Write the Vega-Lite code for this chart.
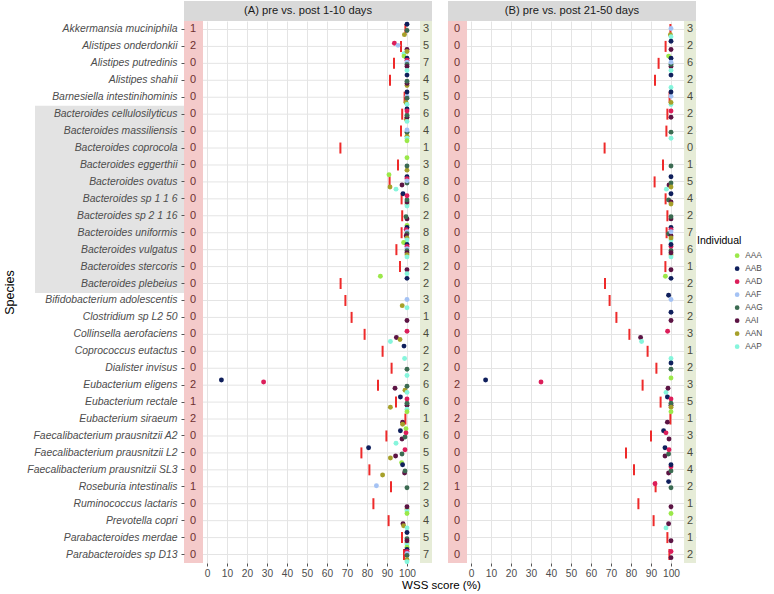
{
  "$schema": "https://vega.github.io/schema/vega-lite/v6.json",
  "padding": {"left": 3, "top": 1, "right": 2, "bottom": 2},
  "background": "white",
  "title": {"text": "WSS score (%)", "orient": "bottom", "anchor": "middle", "frame": "bounds", "dx": 58, "offset": 2, "fontSize": 11.5, "fontWeight": "normal", "color": "#000000"},
  "config": {
    "font": "Liberation Sans",
    "view": {"stroke": null},
    "axis": {"domain": false, "gridColor": "#e4e4e4", "gridWidth": 1, "tickColor": "#555555", "tickSize": 3, "labelColor": "#4d4d4d", "titleFontWeight": "normal", "titleColor": "#000000", "labelOverlap": false},
    "legend": {"titleFontWeight": "normal"}
  },
  "datasets": {
    "strip": [
      {"p": "A", "label": "(A) pre vs. post 1-10 days"},
      {"p": "B", "label": "(B) pre vs. post 21-50 days"}
    ],
    "bact": [
      {"sp": "Bacteroides cellulosilyticus"}, {"sp": "Bacteroides massiliensis"}, {"sp": "Bacteroides coprocola"},
      {"sp": "Bacteroides eggerthii"}, {"sp": "Bacteroides ovatus"}, {"sp": "Bacteroides sp 1 1 6"},
      {"sp": "Bacteroides sp 2 1 16"}, {"sp": "Bacteroides uniformis"}, {"sp": "Bacteroides vulgatus"},
      {"sp": "Bacteroides stercoris"}, {"sp": "Bacteroides plebeius"}
    ],
    "med": [
      {"p": "A", "sp": "Akkermansia muciniphila", "m": 99.2, "lo": 1, "hi": 3},
      {"p": "A", "sp": "Alistipes onderdonkii", "m": 97, "lo": 2, "hi": 5},
      {"p": "A", "sp": "Alistipes putredinis", "m": 93.5, "lo": 0, "hi": 7},
      {"p": "A", "sp": "Alistipes shahii", "m": 91.5, "lo": 0, "hi": 4},
      {"p": "A", "sp": "Barnesiella intestinihominis", "m": 98.8, "lo": 0, "hi": 5},
      {"p": "A", "sp": "Bacteroides cellulosilyticus", "m": 97.6, "lo": 0, "hi": 6},
      {"p": "A", "sp": "Bacteroides massiliensis", "m": 97, "lo": 0, "hi": 4},
      {"p": "A", "sp": "Bacteroides coprocola", "m": 66.7, "lo": 0, "hi": 1},
      {"p": "A", "sp": "Bacteroides eggerthii", "m": 95.5, "lo": 0, "hi": 3},
      {"p": "A", "sp": "Bacteroides ovatus", "m": 91.3, "lo": 0, "hi": 8},
      {"p": "A", "sp": "Bacteroides sp 1 1 6", "m": 97.3, "lo": 0, "hi": 6},
      {"p": "A", "sp": "Bacteroides sp 2 1 16", "m": 97.6, "lo": 0, "hi": 2},
      {"p": "A", "sp": "Bacteroides uniformis", "m": 97.3, "lo": 0, "hi": 8},
      {"p": "A", "sp": "Bacteroides vulgatus", "m": 94.7, "lo": 0, "hi": 8},
      {"p": "A", "sp": "Bacteroides stercoris", "m": 96.5, "lo": 0, "hi": 2},
      {"p": "A", "sp": "Bacteroides plebeius", "m": 66.8, "lo": 0, "hi": 2},
      {"p": "A", "sp": "Bifidobacterium adolescentis", "m": 69.2, "lo": 0, "hi": 3},
      {"p": "A", "sp": "Clostridium sp L2 50", "m": 72.3, "lo": 0, "hi": 1},
      {"p": "A", "sp": "Collinsella aerofaciens", "m": 78.8, "lo": 0, "hi": 4},
      {"p": "A", "sp": "Coprococcus eutactus", "m": 87.8, "lo": 0, "hi": 2},
      {"p": "A", "sp": "Dialister invisus", "m": 92.3, "lo": 0, "hi": 2},
      {"p": "A", "sp": "Eubacterium eligens", "m": 85.5, "lo": 2, "hi": 6},
      {"p": "A", "sp": "Eubacterium rectale", "m": 94.5, "lo": 1, "hi": 6},
      {"p": "A", "sp": "Eubacterium siraeum", "m": 99.2, "lo": 2, "hi": 1},
      {"p": "A", "sp": "Faecalibacterium prausnitzii A2", "m": 89.7, "lo": 0, "hi": 6},
      {"p": "A", "sp": "Faecalibacterium prausnitzii L2", "m": 77.2, "lo": 0, "hi": 5},
      {"p": "A", "sp": "Faecalibacterium prausnitzii SL3", "m": 81.2, "lo": 0, "hi": 5},
      {"p": "A", "sp": "Roseburia intestinalis", "m": 92, "lo": 1, "hi": 2},
      {"p": "A", "sp": "Ruminococcus lactaris", "m": 83.2, "lo": 0, "hi": 3},
      {"p": "A", "sp": "Prevotella copri", "m": 90.8, "lo": 0, "hi": 4},
      {"p": "A", "sp": "Parabacteroides merdae", "m": 97.5, "lo": 0, "hi": 5},
      {"p": "A", "sp": "Parabacteroides sp D13", "m": 98.5, "lo": 0, "hi": 7},
      {"p": "B", "sp": "Akkermansia muciniphila", "m": 99.7, "lo": 0, "hi": 3},
      {"p": "B", "sp": "Alistipes onderdonkii", "m": 97.3, "lo": 0, "hi": 2},
      {"p": "B", "sp": "Alistipes putredinis", "m": 93.8, "lo": 0, "hi": 6},
      {"p": "B", "sp": "Alistipes shahii", "m": 92, "lo": 0, "hi": 2},
      {"p": "B", "sp": "Barnesiella intestinihominis", "m": 99.3, "lo": 0, "hi": 4},
      {"p": "B", "sp": "Bacteroides cellulosilyticus", "m": 98.2, "lo": 0, "hi": 2},
      {"p": "B", "sp": "Bacteroides massiliensis", "m": 97.7, "lo": 0, "hi": 2},
      {"p": "B", "sp": "Bacteroides coprocola", "m": 66.8, "lo": 0, "hi": 0},
      {"p": "B", "sp": "Bacteroides eggerthii", "m": 96, "lo": 0, "hi": 1},
      {"p": "B", "sp": "Bacteroides ovatus", "m": 91.8, "lo": 0, "hi": 5},
      {"p": "B", "sp": "Bacteroides sp 1 1 6", "m": 97.3, "lo": 0, "hi": 4},
      {"p": "B", "sp": "Bacteroides sp 2 1 16", "m": 98.2, "lo": 0, "hi": 2},
      {"p": "B", "sp": "Bacteroides uniformis", "m": 97.8, "lo": 0, "hi": 7},
      {"p": "B", "sp": "Bacteroides vulgatus", "m": 95.2, "lo": 0, "hi": 6},
      {"p": "B", "sp": "Bacteroides stercoris", "m": 97.2, "lo": 0, "hi": 1},
      {"p": "B", "sp": "Bacteroides plebeius", "m": 67, "lo": 0, "hi": 2},
      {"p": "B", "sp": "Bifidobacterium adolescentis", "m": 69.3, "lo": 0, "hi": 2},
      {"p": "B", "sp": "Clostridium sp L2 50", "m": 72.7, "lo": 0, "hi": 2},
      {"p": "B", "sp": "Collinsella aerofaciens", "m": 79.2, "lo": 0, "hi": 3},
      {"p": "B", "sp": "Coprococcus eutactus", "m": 88.3, "lo": 0, "hi": 1},
      {"p": "B", "sp": "Dialister invisus", "m": 92.7, "lo": 0, "hi": 2},
      {"p": "B", "sp": "Eubacterium eligens", "m": 85.8, "lo": 2, "hi": 3},
      {"p": "B", "sp": "Eubacterium rectale", "m": 94.8, "lo": 0, "hi": 5},
      {"p": "B", "sp": "Eubacterium siraeum", "m": 99.7, "lo": 2, "hi": 1},
      {"p": "B", "sp": "Faecalibacterium prausnitzii A2", "m": 90, "lo": 0, "hi": 3},
      {"p": "B", "sp": "Faecalibacterium prausnitzii L2", "m": 77.5, "lo": 0, "hi": 4},
      {"p": "B", "sp": "Faecalibacterium prausnitzii SL3", "m": 81.5, "lo": 0, "hi": 4},
      {"p": "B", "sp": "Roseburia intestinalis", "m": 92.3, "lo": 1, "hi": 2},
      {"p": "B", "sp": "Ruminococcus lactaris", "m": 83.7, "lo": 0, "hi": 1},
      {"p": "B", "sp": "Prevotella copri", "m": 91.3, "lo": 0, "hi": 2},
      {"p": "B", "sp": "Parabacteroides merdae", "m": 98.2, "lo": 0, "hi": 1},
      {"p": "B", "sp": "Parabacteroides sp D13", "m": 99.2, "lo": 0, "hi": 2}
    ],
    "pts": [
      {"p": "A", "sp": "Akkermansia muciniphila", "ind": "AAN", "v": 98.7},
      {"p": "A", "sp": "Akkermansia muciniphila", "ind": "AAG", "v": 100},
      {"p": "A", "sp": "Akkermansia muciniphila", "ind": "AAB", "v": 100},
      {"p": "A", "sp": "Alistipes onderdonkii", "ind": "AAD", "v": 93.7},
      {"p": "A", "sp": "Alistipes onderdonkii", "ind": "AAF", "v": 95.5},
      {"p": "A", "sp": "Alistipes onderdonkii", "ind": "AAP", "v": 98.5},
      {"p": "A", "sp": "Alistipes onderdonkii", "ind": "AAI", "v": 100},
      {"p": "A", "sp": "Alistipes onderdonkii", "ind": "AAN", "v": 100},
      {"p": "A", "sp": "Alistipes putredinis", "ind": "AAA", "v": 98.5},
      {"p": "A", "sp": "Alistipes putredinis", "ind": "AAB", "v": 100},
      {"p": "A", "sp": "Alistipes putredinis", "ind": "AAD", "v": 100},
      {"p": "A", "sp": "Alistipes putredinis", "ind": "AAF", "v": 100},
      {"p": "A", "sp": "Alistipes putredinis", "ind": "AAG", "v": 100},
      {"p": "A", "sp": "Alistipes putredinis", "ind": "AAI", "v": 100},
      {"p": "A", "sp": "Alistipes putredinis", "ind": "AAP", "v": 100},
      {"p": "A", "sp": "Alistipes shahii", "ind": "AAN", "v": 100},
      {"p": "A", "sp": "Alistipes shahii", "ind": "AAI", "v": 100},
      {"p": "A", "sp": "Alistipes shahii", "ind": "AAG", "v": 100},
      {"p": "A", "sp": "Alistipes shahii", "ind": "AAB", "v": 100},
      {"p": "A", "sp": "Barnesiella intestinihominis", "ind": "AAN", "v": 99.5},
      {"p": "A", "sp": "Barnesiella intestinihominis", "ind": "AAF", "v": 100},
      {"p": "A", "sp": "Barnesiella intestinihominis", "ind": "AAP", "v": 100},
      {"p": "A", "sp": "Barnesiella intestinihominis", "ind": "AAB", "v": 100},
      {"p": "A", "sp": "Barnesiella intestinihominis", "ind": "AAG", "v": 100},
      {"p": "A", "sp": "Bacteroides cellulosilyticus", "ind": "AAN", "v": 99.7},
      {"p": "A", "sp": "Bacteroides cellulosilyticus", "ind": "AAI", "v": 100},
      {"p": "A", "sp": "Bacteroides cellulosilyticus", "ind": "AAG", "v": 100},
      {"p": "A", "sp": "Bacteroides cellulosilyticus", "ind": "AAB", "v": 100},
      {"p": "A", "sp": "Bacteroides cellulosilyticus", "ind": "AAD", "v": 100},
      {"p": "A", "sp": "Bacteroides cellulosilyticus", "ind": "AAP", "v": 100},
      {"p": "A", "sp": "Bacteroides massiliensis", "ind": "AAN", "v": 100},
      {"p": "A", "sp": "Bacteroides massiliensis", "ind": "AAP", "v": 100},
      {"p": "A", "sp": "Bacteroides massiliensis", "ind": "AAG", "v": 100},
      {"p": "A", "sp": "Bacteroides massiliensis", "ind": "AAF", "v": 100},
      {"p": "A", "sp": "Bacteroides coprocola", "ind": "AAA", "v": 100},
      {"p": "A", "sp": "Bacteroides eggerthii", "ind": "AAA", "v": 100},
      {"p": "A", "sp": "Bacteroides eggerthii", "ind": "AAN", "v": 100},
      {"p": "A", "sp": "Bacteroides eggerthii", "ind": "AAG", "v": 100},
      {"p": "A", "sp": "Bacteroides ovatus", "ind": "AAA", "v": 91},
      {"p": "A", "sp": "Bacteroides ovatus", "ind": "AAN", "v": 91.5},
      {"p": "A", "sp": "Bacteroides ovatus", "ind": "AAP", "v": 94.5},
      {"p": "A", "sp": "Bacteroides ovatus", "ind": "AAI", "v": 97.5},
      {"p": "A", "sp": "Bacteroides ovatus", "ind": "AAB", "v": 100},
      {"p": "A", "sp": "Bacteroides ovatus", "ind": "AAG", "v": 100},
      {"p": "A", "sp": "Bacteroides ovatus", "ind": "AAD", "v": 100},
      {"p": "A", "sp": "Bacteroides ovatus", "ind": "AAF", "v": 100},
      {"p": "A", "sp": "Bacteroides sp 1 1 6", "ind": "AAB", "v": 98},
      {"p": "A", "sp": "Bacteroides sp 1 1 6", "ind": "AAN", "v": 100},
      {"p": "A", "sp": "Bacteroides sp 1 1 6", "ind": "AAP", "v": 100},
      {"p": "A", "sp": "Bacteroides sp 1 1 6", "ind": "AAI", "v": 100},
      {"p": "A", "sp": "Bacteroides sp 1 1 6", "ind": "AAG", "v": 100},
      {"p": "A", "sp": "Bacteroides sp 1 1 6", "ind": "AAD", "v": 100},
      {"p": "A", "sp": "Bacteroides sp 2 1 16", "ind": "AAI", "v": 100},
      {"p": "A", "sp": "Bacteroides sp 2 1 16", "ind": "AAG", "v": 99.5},
      {"p": "A", "sp": "Bacteroides uniformis", "ind": "AAA", "v": 100},
      {"p": "A", "sp": "Bacteroides uniformis", "ind": "AAB", "v": 100},
      {"p": "A", "sp": "Bacteroides uniformis", "ind": "AAD", "v": 99.6},
      {"p": "A", "sp": "Bacteroides uniformis", "ind": "AAF", "v": 100},
      {"p": "A", "sp": "Bacteroides uniformis", "ind": "AAG", "v": 100},
      {"p": "A", "sp": "Bacteroides uniformis", "ind": "AAI", "v": 99.6},
      {"p": "A", "sp": "Bacteroides uniformis", "ind": "AAN", "v": 100},
      {"p": "A", "sp": "Bacteroides uniformis", "ind": "AAP", "v": 100},
      {"p": "A", "sp": "Bacteroides vulgatus", "ind": "AAA", "v": 98.3},
      {"p": "A", "sp": "Bacteroides vulgatus", "ind": "AAB", "v": 100},
      {"p": "A", "sp": "Bacteroides vulgatus", "ind": "AAD", "v": 100},
      {"p": "A", "sp": "Bacteroides vulgatus", "ind": "AAF", "v": 100},
      {"p": "A", "sp": "Bacteroides vulgatus", "ind": "AAG", "v": 100},
      {"p": "A", "sp": "Bacteroides vulgatus", "ind": "AAI", "v": 100},
      {"p": "A", "sp": "Bacteroides vulgatus", "ind": "AAN", "v": 100},
      {"p": "A", "sp": "Bacteroides vulgatus", "ind": "AAP", "v": 100},
      {"p": "A", "sp": "Bacteroides stercoris", "ind": "AAI", "v": 100},
      {"p": "A", "sp": "Bacteroides stercoris", "ind": "AAP", "v": 100},
      {"p": "A", "sp": "Bacteroides plebeius", "ind": "AAA", "v": 86.7},
      {"p": "A", "sp": "Bacteroides plebeius", "ind": "AAB", "v": 100},
      {"p": "A", "sp": "Bifidobacterium adolescentis", "ind": "AAN", "v": 97.6},
      {"p": "A", "sp": "Bifidobacterium adolescentis", "ind": "AAP", "v": 100},
      {"p": "A", "sp": "Bifidobacterium adolescentis", "ind": "AAF", "v": 100},
      {"p": "A", "sp": "Clostridium sp L2 50", "ind": "AAI", "v": 100},
      {"p": "A", "sp": "Collinsella aerofaciens", "ind": "AAP", "v": 91.7},
      {"p": "A", "sp": "Collinsella aerofaciens", "ind": "AAI", "v": 94.7},
      {"p": "A", "sp": "Collinsella aerofaciens", "ind": "AAN", "v": 96.5},
      {"p": "A", "sp": "Collinsella aerofaciens", "ind": "AAD", "v": 100},
      {"p": "A", "sp": "Coprococcus eutactus", "ind": "AAP", "v": 98.8},
      {"p": "A", "sp": "Coprococcus eutactus", "ind": "AAB", "v": 98.5},
      {"p": "A", "sp": "Dialister invisus", "ind": "AAG", "v": 100},
      {"p": "A", "sp": "Dialister invisus", "ind": "AAP", "v": 100},
      {"p": "A", "sp": "Eubacterium eligens", "ind": "AAB", "v": 7.2},
      {"p": "A", "sp": "Eubacterium eligens", "ind": "AAD", "v": 28.3},
      {"p": "A", "sp": "Eubacterium eligens", "ind": "AAI", "v": 94},
      {"p": "A", "sp": "Eubacterium eligens", "ind": "AAN", "v": 99},
      {"p": "A", "sp": "Eubacterium eligens", "ind": "AAP", "v": 100},
      {"p": "A", "sp": "Eubacterium eligens", "ind": "AAG", "v": 100},
      {"p": "A", "sp": "Eubacterium rectale", "ind": "AAN", "v": 91.7},
      {"p": "A", "sp": "Eubacterium rectale", "ind": "AAB", "v": 96.7},
      {"p": "A", "sp": "Eubacterium rectale", "ind": "AAI", "v": 100},
      {"p": "A", "sp": "Eubacterium rectale", "ind": "AAG", "v": 100},
      {"p": "A", "sp": "Eubacterium rectale", "ind": "AAD", "v": 100},
      {"p": "A", "sp": "Eubacterium rectale", "ind": "AAP", "v": 100},
      {"p": "A", "sp": "Eubacterium siraeum", "ind": "AAI", "v": 97.8},
      {"p": "A", "sp": "Eubacterium siraeum", "ind": "AAN", "v": 97.8},
      {"p": "A", "sp": "Eubacterium siraeum", "ind": "AAA", "v": 100},
      {"p": "A", "sp": "Faecalibacterium prausnitzii A2", "ind": "AAP", "v": 94.5},
      {"p": "A", "sp": "Faecalibacterium prausnitzii A2", "ind": "AAB", "v": 96.7},
      {"p": "A", "sp": "Faecalibacterium prausnitzii A2", "ind": "AAI", "v": 97.5},
      {"p": "A", "sp": "Faecalibacterium prausnitzii A2", "ind": "AAG", "v": 99},
      {"p": "A", "sp": "Faecalibacterium prausnitzii A2", "ind": "AAA", "v": 99.5},
      {"p": "A", "sp": "Faecalibacterium prausnitzii A2", "ind": "AAD", "v": 99.5},
      {"p": "A", "sp": "Faecalibacterium prausnitzii L2", "ind": "AAB", "v": 80.8},
      {"p": "A", "sp": "Faecalibacterium prausnitzii L2", "ind": "AAN", "v": 91.7},
      {"p": "A", "sp": "Faecalibacterium prausnitzii L2", "ind": "AAI", "v": 94.3},
      {"p": "A", "sp": "Faecalibacterium prausnitzii L2", "ind": "AAG", "v": 97.5},
      {"p": "A", "sp": "Faecalibacterium prausnitzii L2", "ind": "AAD", "v": 99},
      {"p": "A", "sp": "Faecalibacterium prausnitzii SL3", "ind": "AAN", "v": 87.8},
      {"p": "A", "sp": "Faecalibacterium prausnitzii SL3", "ind": "AAA", "v": 97.3},
      {"p": "A", "sp": "Faecalibacterium prausnitzii SL3", "ind": "AAB", "v": 97.8},
      {"p": "A", "sp": "Faecalibacterium prausnitzii SL3", "ind": "AAI", "v": 98.8},
      {"p": "A", "sp": "Faecalibacterium prausnitzii SL3", "ind": "AAG", "v": 99},
      {"p": "A", "sp": "Roseburia intestinalis", "ind": "AAF", "v": 84.7},
      {"p": "A", "sp": "Roseburia intestinalis", "ind": "AAG", "v": 100},
      {"p": "A", "sp": "Ruminococcus lactaris", "ind": "AAN", "v": 100},
      {"p": "A", "sp": "Ruminococcus lactaris", "ind": "AAP", "v": 100},
      {"p": "A", "sp": "Ruminococcus lactaris", "ind": "AAI", "v": 100},
      {"p": "A", "sp": "Prevotella copri", "ind": "AAI", "v": 98},
      {"p": "A", "sp": "Prevotella copri", "ind": "AAN", "v": 98.3},
      {"p": "A", "sp": "Prevotella copri", "ind": "AAP", "v": 100},
      {"p": "A", "sp": "Prevotella copri", "ind": "AAA", "v": 100},
      {"p": "A", "sp": "Parabacteroides merdae", "ind": "AAN", "v": 100},
      {"p": "A", "sp": "Parabacteroides merdae", "ind": "AAP", "v": 100},
      {"p": "A", "sp": "Parabacteroides merdae", "ind": "AAB", "v": 100},
      {"p": "A", "sp": "Parabacteroides merdae", "ind": "AAG", "v": 100},
      {"p": "A", "sp": "Parabacteroides merdae", "ind": "AAI", "v": 100},
      {"p": "A", "sp": "Parabacteroides sp D13", "ind": "AAA", "v": 100},
      {"p": "A", "sp": "Parabacteroides sp D13", "ind": "AAB", "v": 100},
      {"p": "A", "sp": "Parabacteroides sp D13", "ind": "AAD", "v": 100},
      {"p": "A", "sp": "Parabacteroides sp D13", "ind": "AAF", "v": 100},
      {"p": "A", "sp": "Parabacteroides sp D13", "ind": "AAG", "v": 100},
      {"p": "A", "sp": "Parabacteroides sp D13", "ind": "AAN", "v": 100},
      {"p": "A", "sp": "Parabacteroides sp D13", "ind": "AAP", "v": 100},
      {"p": "B", "sp": "Akkermansia muciniphila", "ind": "AAN", "v": 99.7},
      {"p": "B", "sp": "Akkermansia muciniphila", "ind": "AAP", "v": 100},
      {"p": "B", "sp": "Akkermansia muciniphila", "ind": "AAF", "v": 100},
      {"p": "B", "sp": "Alistipes onderdonkii", "ind": "AAB", "v": 100},
      {"p": "B", "sp": "Alistipes onderdonkii", "ind": "AAI", "v": 100},
      {"p": "B", "sp": "Alistipes putredinis", "ind": "AAA", "v": 98.8},
      {"p": "B", "sp": "Alistipes putredinis", "ind": "AAI", "v": 100},
      {"p": "B", "sp": "Alistipes putredinis", "ind": "AAB", "v": 100},
      {"p": "B", "sp": "Alistipes putredinis", "ind": "AAP", "v": 100},
      {"p": "B", "sp": "Alistipes putredinis", "ind": "AAG", "v": 100},
      {"p": "B", "sp": "Alistipes putredinis", "ind": "AAF", "v": 100},
      {"p": "B", "sp": "Alistipes shahii", "ind": "AAB", "v": 100},
      {"p": "B", "sp": "Alistipes shahii", "ind": "AAP", "v": 100},
      {"p": "B", "sp": "Barnesiella intestinihominis", "ind": "AAF", "v": 100},
      {"p": "B", "sp": "Barnesiella intestinihominis", "ind": "AAP", "v": 100},
      {"p": "B", "sp": "Barnesiella intestinihominis", "ind": "AAN", "v": 100},
      {"p": "B", "sp": "Barnesiella intestinihominis", "ind": "AAB", "v": 100},
      {"p": "B", "sp": "Bacteroides cellulosilyticus", "ind": "AAD", "v": 100},
      {"p": "B", "sp": "Bacteroides cellulosilyticus", "ind": "AAI", "v": 100},
      {"p": "B", "sp": "Bacteroides massiliensis", "ind": "AAP", "v": 100},
      {"p": "B", "sp": "Bacteroides massiliensis", "ind": "AAG", "v": 100},
      {"p": "B", "sp": "Bacteroides eggerthii", "ind": "AAG", "v": 100},
      {"p": "B", "sp": "Bacteroides ovatus", "ind": "AAP", "v": 97.7},
      {"p": "B", "sp": "Bacteroides ovatus", "ind": "AAI", "v": 99},
      {"p": "B", "sp": "Bacteroides ovatus", "ind": "AAB", "v": 100},
      {"p": "B", "sp": "Bacteroides ovatus", "ind": "AAG", "v": 100},
      {"p": "B", "sp": "Bacteroides ovatus", "ind": "AAN", "v": 100},
      {"p": "B", "sp": "Bacteroides sp 1 1 6", "ind": "AAG", "v": 98.8},
      {"p": "B", "sp": "Bacteroides sp 1 1 6", "ind": "AAI", "v": 100},
      {"p": "B", "sp": "Bacteroides sp 1 1 6", "ind": "AAN", "v": 100},
      {"p": "B", "sp": "Bacteroides sp 1 1 6", "ind": "AAB", "v": 100},
      {"p": "B", "sp": "Bacteroides sp 2 1 16", "ind": "AAI", "v": 100},
      {"p": "B", "sp": "Bacteroides sp 2 1 16", "ind": "AAG", "v": 100},
      {"p": "B", "sp": "Bacteroides uniformis", "ind": "AAG", "v": 98.8},
      {"p": "B", "sp": "Bacteroides uniformis", "ind": "AAI", "v": 100},
      {"p": "B", "sp": "Bacteroides uniformis", "ind": "AAP", "v": 100},
      {"p": "B", "sp": "Bacteroides uniformis", "ind": "AAB", "v": 100},
      {"p": "B", "sp": "Bacteroides uniformis", "ind": "AAD", "v": 100},
      {"p": "B", "sp": "Bacteroides uniformis", "ind": "AAN", "v": 100},
      {"p": "B", "sp": "Bacteroides uniformis", "ind": "AAF", "v": 100},
      {"p": "B", "sp": "Bacteroides vulgatus", "ind": "AAN", "v": 100},
      {"p": "B", "sp": "Bacteroides vulgatus", "ind": "AAP", "v": 100},
      {"p": "B", "sp": "Bacteroides vulgatus", "ind": "AAD", "v": 100},
      {"p": "B", "sp": "Bacteroides vulgatus", "ind": "AAB", "v": 100},
      {"p": "B", "sp": "Bacteroides vulgatus", "ind": "AAG", "v": 100},
      {"p": "B", "sp": "Bacteroides vulgatus", "ind": "AAI", "v": 100},
      {"p": "B", "sp": "Bacteroides stercoris", "ind": "AAI", "v": 100},
      {"p": "B", "sp": "Bacteroides plebeius", "ind": "AAA", "v": 97.2},
      {"p": "B", "sp": "Bacteroides plebeius", "ind": "AAB", "v": 100},
      {"p": "B", "sp": "Bifidobacterium adolescentis", "ind": "AAB", "v": 98.8},
      {"p": "B", "sp": "Bifidobacterium adolescentis", "ind": "AAF", "v": 100},
      {"p": "B", "sp": "Clostridium sp L2 50", "ind": "AAB", "v": 100},
      {"p": "B", "sp": "Clostridium sp L2 50", "ind": "AAI", "v": 100},
      {"p": "B", "sp": "Collinsella aerofaciens", "ind": "AAI", "v": 84.8},
      {"p": "B", "sp": "Collinsella aerofaciens", "ind": "AAP", "v": 85.3},
      {"p": "B", "sp": "Collinsella aerofaciens", "ind": "AAD", "v": 98.3},
      {"p": "B", "sp": "Coprococcus eutactus", "ind": "AAP", "v": 100},
      {"p": "B", "sp": "Dialister invisus", "ind": "AAG", "v": 100},
      {"p": "B", "sp": "Dialister invisus", "ind": "AAB", "v": 100},
      {"p": "B", "sp": "Eubacterium eligens", "ind": "AAB", "v": 7.3},
      {"p": "B", "sp": "Eubacterium eligens", "ind": "AAD", "v": 35},
      {"p": "B", "sp": "Eubacterium eligens", "ind": "AAP", "v": 97.5},
      {"p": "B", "sp": "Eubacterium eligens", "ind": "AAI", "v": 98.5},
      {"p": "B", "sp": "Eubacterium eligens", "ind": "AAA", "v": 100},
      {"p": "B", "sp": "Eubacterium rectale", "ind": "AAB", "v": 98.2},
      {"p": "B", "sp": "Eubacterium rectale", "ind": "AAD", "v": 100},
      {"p": "B", "sp": "Eubacterium rectale", "ind": "AAI", "v": 100},
      {"p": "B", "sp": "Eubacterium rectale", "ind": "AAG", "v": 100},
      {"p": "B", "sp": "Eubacterium rectale", "ind": "AAN", "v": 100},
      {"p": "B", "sp": "Eubacterium siraeum", "ind": "AAI", "v": 98.2},
      {"p": "B", "sp": "Eubacterium siraeum", "ind": "AAA", "v": 100},
      {"p": "B", "sp": "Faecalibacterium prausnitzii A2", "ind": "AAB", "v": 96.3},
      {"p": "B", "sp": "Faecalibacterium prausnitzii A2", "ind": "AAD", "v": 97.5},
      {"p": "B", "sp": "Faecalibacterium prausnitzii A2", "ind": "AAI", "v": 99},
      {"p": "B", "sp": "Faecalibacterium prausnitzii L2", "ind": "AAB", "v": 97},
      {"p": "B", "sp": "Faecalibacterium prausnitzii L2", "ind": "AAI", "v": 97},
      {"p": "B", "sp": "Faecalibacterium prausnitzii L2", "ind": "AAG", "v": 98.8},
      {"p": "B", "sp": "Faecalibacterium prausnitzii L2", "ind": "AAD", "v": 99},
      {"p": "B", "sp": "Faecalibacterium prausnitzii SL3", "ind": "AAI", "v": 98.8},
      {"p": "B", "sp": "Faecalibacterium prausnitzii SL3", "ind": "AAG", "v": 100},
      {"p": "B", "sp": "Faecalibacterium prausnitzii SL3", "ind": "AAD", "v": 100},
      {"p": "B", "sp": "Faecalibacterium prausnitzii SL3", "ind": "AAB", "v": 100},
      {"p": "B", "sp": "Roseburia intestinalis", "ind": "AAD", "v": 92},
      {"p": "B", "sp": "Roseburia intestinalis", "ind": "AAB", "v": 98.8},
      {"p": "B", "sp": "Roseburia intestinalis", "ind": "AAG", "v": 100},
      {"p": "B", "sp": "Ruminococcus lactaris", "ind": "AAI", "v": 100},
      {"p": "B", "sp": "Prevotella copri", "ind": "AAP", "v": 97.5},
      {"p": "B", "sp": "Prevotella copri", "ind": "AAI", "v": 98.8},
      {"p": "B", "sp": "Prevotella copri", "ind": "AAA", "v": 100},
      {"p": "B", "sp": "Parabacteroides merdae", "ind": "AAI", "v": 100},
      {"p": "B", "sp": "Parabacteroides sp D13", "ind": "AAI", "v": 100},
      {"p": "B", "sp": "Parabacteroides sp D13", "ind": "AAD", "v": 100}
    ]
  },
  "spacing": 15,
  "hconcat": [
    {
      "spacing": 0,
      "vconcat": [
        {
          "width": 248, "height": 20,
          "data": {"name": "strip"},
          "transform": [{"filter": "datum.p == 'A'"}],
          "layer": [
            {"mark": {"type": "rect", "color": "#d9d9d9"},
             "encoding": {"x": {"datum": -11.5, "type": "quantitative", "scale": {"domain": [-11.5, 112.5], "nice": false, "zero": false}, "axis": null}, "x2": {"datum": 112.5}}},
            {"mark": {"type": "text", "fontSize": 11.2, "color": "#1a1a1a"},
             "encoding": {"x": {"datum": 50.5, "type": "quantitative"}, "text": {"field": "label"}}}
          ]
        },
        {
          "width": 248, "height": 542,
          "layer": [
            {"data": {"name": "med"}, "transform": [{"filter": "datum.p == 'A'"}],
             "mark": {"type": "rule", "color": "#e4e4e4", "strokeWidth": 1},
             "encoding": {"y": {"field": "sp", "type": "nominal"}}},
            {"data": {"name": "med"}, "transform": [{"filter": "datum.p == 'A'"}],
             "mark": {"type": "tick", "color": "#ee2a2a", "size": 11, "thickness": 2, "orient": "vertical", "opacity": 1},
             "encoding": {"x": {"field": "m", "type": "quantitative", "title": null, "scale": {"domain": [-11.5, 112.5], "nice": false, "zero": false},
               "axis": {"values": [0, 10, 20, 30, 40, 50, 60, 70, 80, 90, 100], "tickCount": 11, "labelExpr": "datum.value >= 0 && datum.value <= 100 ? datum.label : ''", "labelFontSize": 10.2, "labelOverlap": false, "labelFlush": false, "labelPadding": 2, "labelDx": -3, "grid": true}},
               "y": {"field": "sp", "type": "nominal",
                 "scale": {"domain": ["Akkermansia muciniphila", "Alistipes onderdonkii", "Alistipes putredinis", "Alistipes shahii", "Barnesiella intestinihominis", "Bacteroides cellulosilyticus", "Bacteroides massiliensis", "Bacteroides coprocola", "Bacteroides eggerthii", "Bacteroides ovatus", "Bacteroides sp 1 1 6", "Bacteroides sp 2 1 16", "Bacteroides uniformis", "Bacteroides vulgatus", "Bacteroides stercoris", "Bacteroides plebeius", "Bifidobacterium adolescentis", "Clostridium sp L2 50", "Collinsella aerofaciens", "Coprococcus eutactus", "Dialister invisus", "Eubacterium eligens", "Eubacterium rectale", "Eubacterium siraeum", "Faecalibacterium prausnitzii A2", "Faecalibacterium prausnitzii L2", "Faecalibacterium prausnitzii SL3", "Roseburia intestinalis", "Ruminococcus lactaris", "Prevotella copri", "Parabacteroides merdae", "Parabacteroides sp D13"], "paddingInner": 0, "paddingOuter": 0},
                 "axis": {"title": "Species", "titleFontSize": 12.5, "titlePadding": 10, "labelFontStyle": "italic", "labelFontSize": 10.4, "labelPadding": 4, "labelLimit": 0, "bandPosition": 0.5, "grid": false, "zindex": 1}}}},
            {"data": {"name": "strip"}, "transform": [{"filter": "datum.p == 'A'"}],
             "mark": {"type": "rect", "color": "#f4caca"},
             "encoding": {"x": {"datum": -11.5, "type": "quantitative", "title": null}, "x2": {"datum": -2}}},
            {"data": {"name": "strip"}, "transform": [{"filter": "datum.p == 'A'"}],
             "mark": {"type": "rect", "color": "#e6ecd7"},
             "encoding": {"x": {"datum": 106.5, "type": "quantitative", "title": null}, "x2": {"datum": 112.5}}},
            {"data": {"name": "bact"},
             "mark": {"type": "rect", "color": "#e3e3e3"},
             "encoding": {"x": {"datum": -86, "type": "quantitative", "title": null}, "x2": {"datum": -11.5},
               "y": {"field": "sp", "type": "nominal"}}},
            {"data": {"name": "pts"}, "transform": [{"filter": "datum.p == 'A'"}],
             "mark": {"type": "circle", "size": 24, "opacity": 1},
             "encoding": {"x": {"field": "v", "type": "quantitative", "title": null},
               "y": {"field": "sp", "type": "nominal"},
               "yOffset": {"field": "ind", "type": "nominal", "scale": {"paddingOuter": 0.6}},
               "color": {"field": "ind", "type": "nominal",
                 "scale": {"domain": ["AAA", "AAB", "AAD", "AAF", "AAG", "AAI", "AAN", "AAP"], "range": ["#9be84a", "#0f1f5c", "#dc1e5a", "#a4c2f4", "#3b6b52", "#5c1444", "#a6a02a", "#86f5dc"]},
                 "legend": {"title": "Individual", "orient": "none", "legendX": 513, "legendY": 235, "padding": 0, "titleFontSize": 10.5, "titleColor": "#000000", "labelFontSize": 8.3, "labelColor": "#4d4d4d", "symbolSize": 22, "symbolType": "circle", "symbolOffset": 36, "rowPadding": 4, "titlePadding": 5}}}},
            {"data": {"name": "med"}, "transform": [{"filter": "datum.p == 'A'"}],
             "mark": {"type": "text", "fontSize": 11, "color": "#6e3030"},
             "encoding": {"x": {"datum": -7, "type": "quantitative", "title": null}, "y": {"field": "sp", "type": "nominal"}, "text": {"field": "lo"}}},
            {"data": {"name": "med"}, "transform": [{"filter": "datum.p == 'A'"}],
             "mark": {"type": "text", "fontSize": 11, "color": "#4b4b3b"},
             "encoding": {"x": {"datum": 109.5, "type": "quantitative", "title": null}, "y": {"field": "sp", "type": "nominal"}, "text": {"field": "hi"}}}
          ]
        }
      ]
    },
    {
      "spacing": 0,
      "vconcat": [
        {
          "width": 248, "height": 20,
          "data": {"name": "strip"},
          "transform": [{"filter": "datum.p == 'B'"}],
          "layer": [
            {"mark": {"type": "rect", "color": "#d9d9d9"},
             "encoding": {"x": {"datum": -11.5, "type": "quantitative", "scale": {"domain": [-11.5, 112.5], "nice": false, "zero": false}, "axis": null}, "x2": {"datum": 112.5}}},
            {"mark": {"type": "text", "fontSize": 11.2, "color": "#1a1a1a"},
             "encoding": {"x": {"datum": 50.5, "type": "quantitative"}, "text": {"field": "label"}}}
          ]
        },
        {
          "width": 248, "height": 542,
          "layer": [
            {"data": {"name": "med"}, "transform": [{"filter": "datum.p == 'B'"}],
             "mark": {"type": "tick", "color": "#ee2a2a", "size": 11, "thickness": 2, "orient": "vertical", "opacity": 1},
             "encoding": {"x": {"field": "m", "type": "quantitative", "title": null, "scale": {"domain": [-11.5, 112.5], "nice": false, "zero": false},
               "axis": {"values": [0, 10, 20, 30, 40, 50, 60, 70, 80, 90, 100], "tickCount": 11, "labelExpr": "datum.value >= 0 && datum.value <= 100 ? datum.label : ''", "labelFontSize": 10.2, "labelOverlap": false, "labelFlush": false, "labelPadding": 2, "labelDx": -3, "grid": true}},
               "y": {"field": "sp", "type": "nominal",
                 "scale": {"domain": ["Akkermansia muciniphila", "Alistipes onderdonkii", "Alistipes putredinis", "Alistipes shahii", "Barnesiella intestinihominis", "Bacteroides cellulosilyticus", "Bacteroides massiliensis", "Bacteroides coprocola", "Bacteroides eggerthii", "Bacteroides ovatus", "Bacteroides sp 1 1 6", "Bacteroides sp 2 1 16", "Bacteroides uniformis", "Bacteroides vulgatus", "Bacteroides stercoris", "Bacteroides plebeius", "Bifidobacterium adolescentis", "Clostridium sp L2 50", "Collinsella aerofaciens", "Coprococcus eutactus", "Dialister invisus", "Eubacterium eligens", "Eubacterium rectale", "Eubacterium siraeum", "Faecalibacterium prausnitzii A2", "Faecalibacterium prausnitzii L2", "Faecalibacterium prausnitzii SL3", "Roseburia intestinalis", "Ruminococcus lactaris", "Prevotella copri", "Parabacteroides merdae", "Parabacteroides sp D13"], "paddingInner": 0, "paddingOuter": 0},
                 "axis": {"title": null, "labels": false, "ticks": false, "bandPosition": 0.5, "grid": true}}}},
            {"data": {"name": "strip"}, "transform": [{"filter": "datum.p == 'B'"}],
             "mark": {"type": "rect", "color": "#f4caca"},
             "encoding": {"x": {"datum": -11.5, "type": "quantitative", "title": null}, "x2": {"datum": -2}}},
            {"data": {"name": "strip"}, "transform": [{"filter": "datum.p == 'B'"}],
             "mark": {"type": "rect", "color": "#e6ecd7"},
             "encoding": {"x": {"datum": 106.5, "type": "quantitative", "title": null}, "x2": {"datum": 112.5}}},
            {"data": {"name": "pts"}, "transform": [{"filter": "datum.p == 'B'"}],
             "mark": {"type": "circle", "size": 24, "opacity": 1},
             "encoding": {"x": {"field": "v", "type": "quantitative", "title": null},
               "y": {"field": "sp", "type": "nominal"},
               "yOffset": {"field": "ind", "type": "nominal", "scale": {"paddingOuter": 0.6}},
               "color": {"field": "ind", "type": "nominal"}}},
            {"data": {"name": "med"}, "transform": [{"filter": "datum.p == 'B'"}],
             "mark": {"type": "text", "fontSize": 11, "color": "#6e3030"},
             "encoding": {"x": {"datum": -7, "type": "quantitative", "title": null}, "y": {"field": "sp", "type": "nominal"}, "text": {"field": "lo"}}},
            {"data": {"name": "med"}, "transform": [{"filter": "datum.p == 'B'"}],
             "mark": {"type": "text", "fontSize": 11, "color": "#4b4b3b"},
             "encoding": {"x": {"datum": 109.5, "type": "quantitative", "title": null}, "y": {"field": "sp", "type": "nominal"}, "text": {"field": "hi"}}}
          ]
        }
      ]
    }
  ]
}
